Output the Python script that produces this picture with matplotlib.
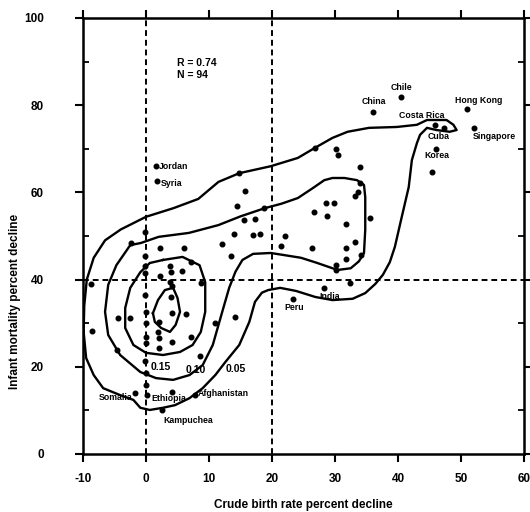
import numpy as np
import matplotlib
matplotlib.use('Agg')
import matplotlib.pyplot as plt

plt.rcParams['font.family'] = ['Liberation Sans', 'DejaVu Sans']
plt.rcParams['font.weight'] = 'bold'
plt.rcParams['axes.labelweight'] = 'bold'
plt.rcParams['axes.unicode_minus'] = False

# Data: crude birth rate % decline (x) vs infant mortality % decline (y)
x_pts = [1.6, 1.7, 14.8, 15.7, 14.5, 18.7, 15.6, 17.3, 14.0, 17.0, 18.1, 22.0, 21.4, 12.1, 13.5,
         -0.2, -2.4, 2.2, 6.1, -0.2, -0.2, 3.8, 3.9, 5.7, 7.2, 2.2, 3.8, 8.8,
         26.8, 30.2, 30.5, 34.0, 34.0, 33.7, 33.1, 28.5, 29.9, 26.6, 28.8, 35.6, 31.7, 33.1,
         31.7, 26.3, 34.2, 31.7, 30.1, 30.2, 28.3, 32.4, 23.3,
         40.5, 36.1, 51.0, 45.8, 47.3, 52.0, 46.0, 45.4,
         0.0, 0.0, 0.0, 0.0, -0.2, -8.5, -4.4, -2.5, -4.6, 2.0, 1.9, 2.1, 4.1, 6.3, 4.2, 2.0,
         7.2, 3.9, 11.0, 14.1, 8.6, 0.0, -0.2, -1.8, 0.2, 7.7, 2.5, -0.2, 4.1, -8.7, 0.0, 4.2]
y_pts = [66.0, 62.6, 64.4, 60.3, 56.9, 56.4, 53.7, 53.9, 50.5, 50.2, 50.4, 50.0, 47.7, 48.2, 45.4,
         50.9, 48.4, 47.2, 47.2, 45.4, 43.1, 43.1, 41.8, 42.0, 44.0, 40.8, 39.5, 39.2,
         70.2, 70.0, 68.6, 65.8, 62.2, 60.1, 59.2, 57.6, 57.6, 55.5, 54.6, 54.1, 52.8, 48.6,
         47.2, 47.2, 45.6, 44.7, 43.3, 42.2, 38.0, 39.2, 35.6,
         81.9, 78.4, 79.1, 75.5, 74.7, 74.8, 70.0, 64.7,
         32.6, 30.0, 26.8, 25.5, 36.5, 28.2, 31.2, 31.2, 23.9, 30.3, 28.0, 26.5, 32.3, 32.1, 25.7, 24.2,
         26.8, 35.9, 30.0, 31.5, 22.5, 18.6, 21.4, 14.1, 13.5, 13.5, 10.0, 41.6, 14.2, 39.0, 15.9, 38.6]

# Named countries (index into points) and their labels
countries = ['Jordan', 'Syria', 'Chile', 'China', 'Hong Kong', 'Costa Rica', 'Cuba', 'Singapore',
             'Korea', 'India', 'Peru', 'Somalia', 'Ethiopia', 'Afghanistan', 'Kampuchea']
country_idx = [0, 1, 51, 52, 53, 54, 55, 56, 57, 48, 50, 82, 83, 84, 85]

# Density contours (levels 0.05, 0.10, 0.15 and inner peak)
c05_x = [-9.9, -9.8, -9.4, -8.3, -6.5, -4.0, 0.0, 4.4, 8.3, 11.5, 14.8, 19.8, 24.1, 26.8, 29.6,
         32.0, 35.4, 39.8, 43.0, 44.6, 47.7, 48.8, 49.3, 48.2, 46.1, 44.6, 43.5, 43.0, 42.2, 41.7,
         40.6, 39.5, 38.7, 37.6, 36.4, 34.8, 32.8, 29.6, 26.9, 23.8, 21.3, 19.4, 18.4, 17.3, 16.4,
         14.8, 12.6, 11.0, 9.0, 6.9, 4.6, 2.7, 0.6, -0.9, -2.0, -4.1, -6.8, -8.3, -9.5, -9.9]
c05_y = [28.0, 34.0, 40.0, 45.0, 49.0, 51.5, 54.4, 56.4, 58.5, 62.4, 64.4, 66.0, 67.9, 70.2, 72.5,
         73.9, 74.8, 75.0, 75.5, 76.6, 76.6, 75.5, 74.3, 73.9, 74.3, 74.8, 73.2, 71.3, 67.4, 61.2,
         54.4, 47.5, 44.0, 41.1, 39.0, 36.9, 35.6, 35.3, 36.0, 37.4, 38.1, 37.6, 37.0, 34.9, 30.3,
         25.0, 21.1, 18.1, 15.1, 12.8, 11.2, 10.6, 10.1, 10.6, 12.4, 13.5, 15.1, 18.1, 22.0, 28.0]

c10_x = [-2.5, -4.7, -6.0, -6.5, -6.0, -4.1, -0.9, 1.6, 4.3, 6.9, 9.0, 10.6, 12.1, 13.2, 14.2,
         15.3, 17.0, 19.8, 22.0, 24.6, 27.2, 30.4, 32.5, 33.8, 34.6, 34.8, 34.8, 34.6, 33.5, 31.5,
         29.6, 28.3, 26.5, 24.1, 21.5, 18.9, 15.0, 11.5, 6.8, 2.0, -0.8, -2.5]
c10_y = [47.9, 43.3, 38.8, 32.6, 27.3, 22.7, 18.8, 17.4, 17.0, 18.1, 20.4, 25.0, 32.6, 38.1, 41.8,
         44.5, 45.9, 46.1, 45.6, 45.0, 43.8, 42.2, 42.6, 44.2, 46.1, 51.4, 58.9, 61.7, 62.8, 63.3,
         63.3, 62.8, 61.0, 58.7, 57.4, 56.4, 54.5, 52.5, 50.7, 49.8, 48.4, 47.9]

c15_x = [2.7, 5.8, 8.5, 9.4, 9.4, 8.7, 7.4, 5.4, 2.7, 0.0, -2.0, -3.3, -3.3, -2.5, -0.9, 0.6, 2.7]
c15_y = [44.5, 45.2, 43.3, 39.4, 32.6, 28.0, 25.0, 23.4, 22.7, 23.2, 25.0, 28.9, 33.5, 38.1, 41.7, 43.8, 44.5]

c20_x = [1.1, 1.9, 3.0, 4.3, 5.0, 5.4, 4.7, 3.8, 2.4, 1.4, 1.1]
c20_y = [32.3, 35.3, 37.6, 38.1, 35.8, 32.6, 29.6, 28.0, 28.9, 30.3, 32.3]

level_labels = ['0.15', '0.10', '0.05']

fig = plt.figure(figsize=(5.30, 5.12), dpi=100)
ax = fig.add_axes([0.1566, 0.1133, 0.8321, 0.8516])

# reference lines
ax.axvline(0, color='black', lw=1.4, ls=(0, (3, 2)), zorder=1)
ax.axvline(20, color='black', lw=1.4, ls=(0, (3, 2)), zorder=1)
ax.axhline(40, color='black', lw=1.4, ls=(0, (3, 2)), zorder=1)

# contours
for cx, cy in [(c05_x, c05_y), (c10_x, c10_y), (c15_x, c15_y), (c20_x, c20_y)]:
    ax.plot(cx, cy, color='black', lw=1.7, zorder=2)

ax.plot(x_pts, y_pts, 'o', color='black', ms=3.3, zorder=3)

# country labels: offsets in points from each dot
offsets = {
    'Jordan': (2, 0, 'left'), 'Syria': (3, -2, 'left'), 'Chile': (0, 7, 'center'),
    'China': (0, 8, 'center'), 'Hong Kong': (8, 6.5, 'center'), 'Costa Rica': (-9, 7, 'center'),
    'Cuba': (-4, -6, 'center'), 'Singapore': (15, -6.5, 'center'), 'Korea': (1, -5, 'center'),
    'India': (4, -6, 'center'), 'Peru': (1, -6.5, 'center'), 'Somalia': (-1.5, -3.5, 'right'),
    'Ethiopia': (3, -2.5, 'left'), 'Afghanistan': (2, 1, 'left'), 'Kampuchea': (1, -7, 'left'),
}
for name, i in zip(countries, country_idx):
    dx, dy, ha = offsets[name]
    ax.annotate(name, (x_pts[i], y_pts[i]), xytext=(dx, dy), textcoords='offset points',
                ha=ha, va='center', fontsize=6.3, fontweight='bold')

# contour level labels
for txt, lx, ly in zip(level_labels, [0.8, 6.3, 12.6], [20.0, 19.3, 19.5]):
    ax.text(lx, ly, txt, fontsize=7.5, ha='left', va='center')

ax.text(4.9, 89.7, 'R = 0.74', fontsize=7.5, ha='left', va='center')
ax.text(4.9, 86.9, 'N = 94', fontsize=7.5, ha='left', va='center')

ax.set_xlim(-10, 60)
ax.set_ylim(0, 100)
ax.set_xticks(np.arange(-10, 61, 10))
ax.set_yticks(np.arange(0, 101, 20))
ax.set_yticks(np.arange(10, 100, 20), minor=True)
ax.tick_params(axis='both', which='major', direction='out', length=6, width=1.5,
               top=True, right=True, labelsize=8.5)
ax.tick_params(axis='y', which='minor', direction='in', length=4, width=1.3, right=True)
ax.tick_params(axis='y', which='major', pad=22)
ax.tick_params(axis='x', which='major', pad=8)
for s in ax.spines.values():
    s.set_linewidth(1.8)

ax.set_xlabel('Crude birth rate percent decline', fontsize=8.5)
ax.set_ylabel('Infant mortality percent decline', fontsize=8.5)
ax.xaxis.set_label_coords(0.5, -0.103)
ax.yaxis.set_label_coords(-0.141, 0.349)

fig.savefig('out.png', dpi=100)
